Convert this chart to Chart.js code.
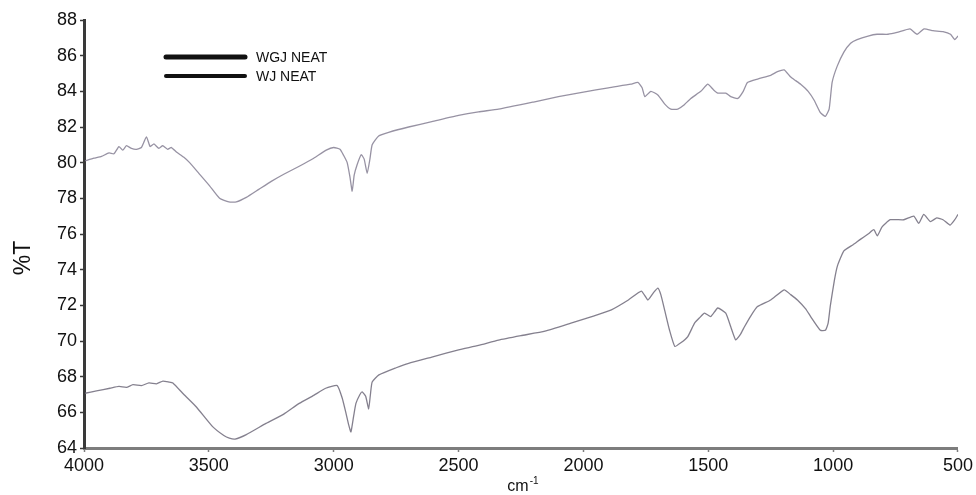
<!DOCTYPE html>
<html>
<head>
<meta charset="utf-8">
<script src="https://cdn.jsdelivr.net/npm/chart.js@4.4.1/dist/chart.umd.min.js"></script>
<style>
  html, body { margin: 0; padding: 0; background: #ffffff; }
  #wrap { width: 976px; height: 495px; }
</style>
</head>
<body>
<div id="wrap"><canvas id="ir" width="976" height="495"></canvas></div>
<script>
// FTIR spectra: transmittance (%T) against wavenumber (cm-1)
const seriesNames = ['WGJ NEAT', 'WJ NEAT'];

const wgjWavenumber = [3996, 3960, 3930, 3900, 3880, 3860, 3845, 3830, 3810, 3790, 3770, 3750, 3735, 3720, 3700, 3685, 3665, 3650, 3630, 3600, 3577, 3540, 3497, 3457, 3420, 3390, 3350, 3300, 3250, 3200, 3138, 3080, 3030, 3000, 2975, 2960, 2946, 2935, 2926, 2918, 2906, 2890, 2878, 2866, 2855, 2846, 2820, 2780, 2700, 2607, 2500, 2420, 2340, 2200, 2100, 2000, 1900, 1810, 1782, 1765, 1754, 1730, 1702, 1675, 1650, 1622, 1600, 1570, 1530, 1502, 1480, 1462, 1430, 1410, 1382, 1360, 1343, 1300, 1250, 1223, 1196, 1170, 1150, 1130, 1100, 1076, 1051, 1031, 1016, 1004, 984, 957, 930, 904, 860, 824, 780, 744, 692, 664, 636, 600, 560, 530, 513, 500];
const wgjT = [80.1, 80.25, 80.35, 80.55, 80.5, 80.9, 80.7, 80.95, 80.8, 80.75, 80.85, 81.45, 80.9, 81.05, 80.8, 80.95, 80.75, 80.85, 80.6, 80.3, 80.0, 79.4, 78.7, 78.0, 77.8, 77.8, 78.05, 78.5, 78.95, 79.35, 79.8, 80.25, 80.7, 80.85, 80.75, 80.4, 80.0, 79.2, 78.4, 79.3, 79.9, 80.45, 80.2, 79.4, 80.2, 81.0, 81.5, 81.7, 82.0, 82.3, 82.65, 82.85, 83.0, 83.4, 83.7, 83.95, 84.2, 84.4, 84.5, 84.2, 83.7, 84.0, 83.8, 83.3, 83.0, 83.0, 83.2, 83.6, 84.0, 84.4, 84.1, 83.9, 83.9, 83.7, 83.6, 84.0, 84.5, 84.7, 84.9, 85.1, 85.2, 84.8, 84.6, 84.4, 84.0, 83.5, 82.8, 82.6, 83.0, 84.5, 85.4, 86.2, 86.7, 86.9, 87.1, 87.2, 87.2, 87.3, 87.5, 87.2, 87.5, 87.4, 87.35, 87.2, 86.9, 87.1];

const wjWavenumber = [3996, 3950, 3896, 3860, 3830, 3804, 3770, 3740, 3710, 3684, 3660, 3644, 3600, 3550, 3485, 3440, 3418, 3395, 3350, 3271, 3200, 3138, 3080, 3032, 2986, 2966, 2950, 2940, 2931, 2920, 2911, 2895, 2886, 2872, 2860, 2853, 2846, 2819, 2750, 2700, 2607, 2500, 2420, 2340, 2250, 2154, 2050, 1960, 1888, 1820, 1768, 1742, 1720, 1702, 1690, 1675, 1655, 1634, 1610, 1582, 1555, 1535, 1515, 1490, 1462, 1430, 1410, 1390, 1370, 1355, 1330, 1303, 1250, 1196, 1170, 1143, 1110, 1090, 1051, 1031, 1020, 1011, 995, 983, 957, 920, 891, 860, 837, 823, 804, 771, 717, 677, 657, 637, 611, 585, 560, 532, 513, 500];
const wjT = [67.07, 67.2, 67.35, 67.45, 67.4, 67.55, 67.5, 67.65, 67.6, 67.75, 67.7, 67.65, 67.0, 66.3, 65.2, 64.7, 64.55, 64.5, 64.75, 65.38, 65.9, 66.5, 66.95, 67.35, 67.5, 66.8, 65.9, 65.3, 64.9, 65.8, 66.5, 67.0, 67.15, 66.9, 66.2, 67.0, 67.7, 68.1, 68.5, 68.75, 69.1, 69.5, 69.75, 70.05, 70.3, 70.55, 71.0, 71.4, 71.75, 72.3, 72.8, 72.3, 72.7, 72.97, 72.6, 71.75, 70.6, 69.7, 69.9, 70.25, 71.0, 71.3, 71.56, 71.37, 71.85, 71.56, 70.8, 70.06, 70.4, 70.8, 71.4, 71.93, 72.3, 72.87, 72.6, 72.3, 71.8, 71.37, 70.6, 70.6, 71.0, 72.0, 73.4, 74.2, 75.05, 75.4, 75.7, 76.0, 76.24, 75.9, 76.4, 76.8, 76.8, 77.0, 76.6, 77.1, 76.7, 76.9, 76.8, 76.5, 76.8, 77.1];

const xTickValues = [4000, 3500, 3000, 2500, 2000, 1500, 1000, 500];
const yTickValues = [64, 66, 68, 70, 72, 74, 76, 78, 80, 82, 84, 86, 88];

const FONT = "'Liberation Sans', Arial, Helvetica, sans-serif";

function toPoints(xs, ys) {
  return xs.map((x, i) => ({ x: x, y: ys[i] }));
}

// Legend, axis titles drawn on the canvas after the chart
const annotations = {
  id: 'annotations',
  afterDraw(chart) {
    const ctx = chart.ctx;
    ctx.save();
    // legend
    const rows = [{ y: 57, w: 5 }, { y: 76, w: 4 }];
    ctx.fillStyle = '#111';
    ctx.strokeStyle = '#111';
    ctx.font = '14px ' + FONT;
    ctx.textBaseline = 'middle';
    ctx.textAlign = 'left';
    chart.data.datasets.forEach((ds, i) => {
      const r = rows[i];
      ctx.lineWidth = r.w;
      ctx.lineCap = 'round';
      ctx.beginPath();
      ctx.moveTo(166, r.y);
      ctx.lineTo(245, r.y);
      ctx.stroke();
      ctx.fillText(ds.label, 256, r.y + 1);
    });
    // y title
    ctx.save();
    ctx.translate(24, 258);
    ctx.rotate(-Math.PI / 2);
    ctx.font = '23px ' + FONT;
    ctx.textAlign = 'center';
    ctx.textBaseline = 'middle';
    ctx.fillStyle = '#111';
    ctx.fillText('%T', 0, 0);
    ctx.restore();
    // x title: cm with superscript -1
    ctx.font = '16px ' + FONT;
    ctx.textAlign = 'left';
    ctx.textBaseline = 'alphabetic';
    ctx.fillStyle = '#111';
    const cmW = ctx.measureText('cm').width;
    const x0 = 522 - cmW / 2 - 4;
    ctx.fillText('cm', x0, 491);
    ctx.font = '10px ' + FONT;
    ctx.fillText('-1', x0 + cmW + 1, 484);
    ctx.restore();
  }
};

new Chart(document.getElementById('ir'), {
  type: 'line',
  data: {
    datasets: [
      {
        label: seriesNames[0],
        data: toPoints(wgjWavenumber, wgjT),
        borderColor: 'rgba(125,119,140,0.8)',
        borderWidth: 1.3,
        pointRadius: 0,
        tension: 0.15,
        fill: false
      },
      {
        label: seriesNames[1],
        data: toPoints(wjWavenumber, wjT),
        borderColor: 'rgba(110,106,122,0.85)',
        borderWidth: 1.3,
        pointRadius: 0,
        tension: 0.15,
        fill: false
      }
    ]
  },
  options: {
    responsive: false,
    animation: false,
    devicePixelRatio: 1,
    layout: { padding: { left: 0, right: 15, top: 20, bottom: 0 } },
    plugins: {
      legend: { display: false },
      tooltip: { enabled: false }
    },
    scales: {
      x: {
        type: 'linear',
        reverse: true,
        min: 500,
        max: 4000,
        afterFit(scale) { scale.height = 47; },
        afterBuildTicks(scale) { scale.ticks = xTickValues.map(v => ({ value: v })); },
        border: { display: true, color: '#7d7d7d', width: 3 },
        grid: { display: true, drawOnChartArea: false, drawTicks: true, tickLength: 4, color: '#7d7d7d', tickWidth: 1.5 },
        ticks: {
          color: '#111',
          font: { family: FONT, size: 18 },
          padding: 3,
          maxRotation: 0,
          autoSkip: false,
          callback: v => String(v)
        }
      },
      y: {
        min: 64,
        max: 88,
        afterFit(scale) { scale.width = 84; },
        afterBuildTicks(scale) { scale.ticks = yTickValues.map(v => ({ value: v })); },
        border: { display: true, color: '#3a3a3a', width: 3 },
        grid: { display: true, drawOnChartArea: false, drawTicks: true, tickLength: 4, color: '#3a3a3a', tickWidth: 1.5 },
        ticks: {
          color: '#111',
          font: { family: FONT, size: 18 },
          padding: 3,
          autoSkip: false,
          callback: v => String(v)
        }
      }
    }
  },
  plugins: [annotations]
});
</script>
</body>
</html>
